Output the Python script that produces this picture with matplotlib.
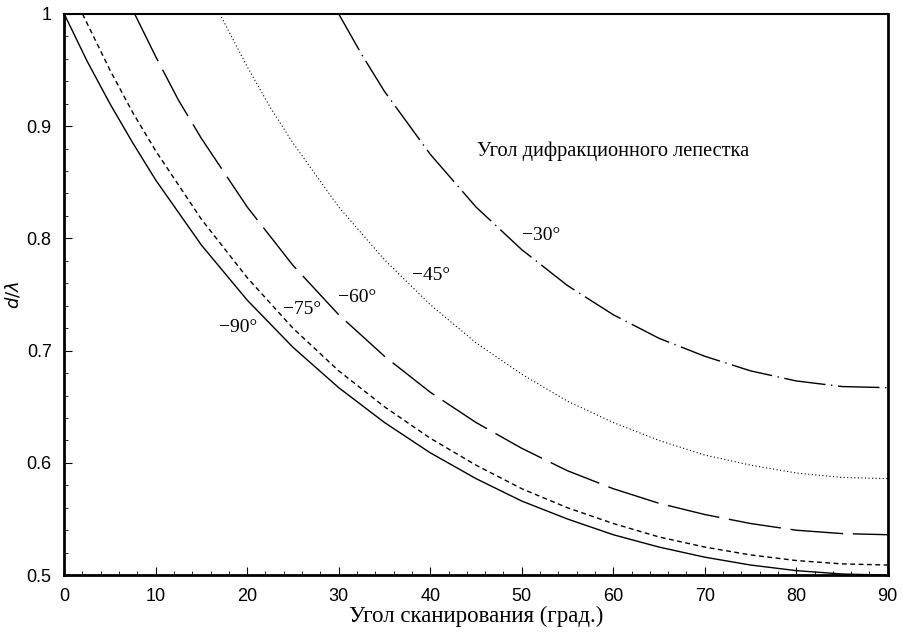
import numpy as np
import matplotlib.pyplot as plt
from matplotlib.ticker import MultipleLocator

# scan angle (deg) and element spacing d/lambda at which each grating lobe appears
scan_90 = [0, 2.5, 5, 7.5, 10, 15, 20, 25, 30, 35, 40, 45, 50, 55, 60, 65, 70, 75, 80, 85, 90]
dl_90 = [1.000, 0.958, 0.920, 0.885, 0.852, 0.794, 0.745, 0.703, 0.667, 0.636, 0.609,
         0.586, 0.566, 0.550, 0.536, 0.525, 0.516, 0.509, 0.504, 0.501, 0.500]

scan_75 = [2, 5, 7.5, 10, 15, 20, 25, 30, 35, 40, 45, 50, 55, 60, 65, 70, 75, 80, 85, 90]
dl_75 = [1.000, 0.950, 0.912, 0.878, 0.817, 0.765, 0.720, 0.682, 0.650, 0.622,
         0.598, 0.577, 0.560, 0.546, 0.534, 0.525, 0.518, 0.513, 0.510, 0.509]

scan_60 = [7.7, 10, 12.5, 15, 20, 25, 30, 35, 40, 45, 50, 55, 60, 65, 70, 75, 80, 85, 90]
dl_60 = [1.000, 0.962, 0.923, 0.889, 0.828, 0.776, 0.732, 0.695, 0.663, 0.636,
         0.613, 0.593, 0.577, 0.564, 0.554, 0.546, 0.540, 0.537, 0.536]

scan_45 = [17, 20, 22.5, 25, 30, 35, 40, 45, 50, 55, 60, 65, 70, 75, 80, 85, 90]
dl_45 = [1.000, 0.953, 0.917, 0.885, 0.828, 0.781, 0.741, 0.707, 0.679, 0.655,
         0.636, 0.620, 0.607, 0.598, 0.591, 0.587, 0.586]

scan_30 = [30, 32.5, 35, 40, 45, 50, 55, 60, 65, 70, 75, 80, 85, 90]
dl_30 = [1.000, 0.964, 0.931, 0.875, 0.828, 0.790, 0.758, 0.732, 0.711, 0.695,
         0.682, 0.673, 0.668, 0.667]

curve_labels = ['\u221290\u00b0', '\u221275\u00b0', '\u221260\u00b0', '\u221245\u00b0', '\u221230\u00b0']
label_x = [19.0, 26.0, 32.0, 40.1, 52.1]
label_y = [0.721, 0.737, 0.747, 0.767, 0.803]

serif = 'Liberation Serif'
sans = 'Liberation Sans'

fig = plt.figure(figsize=(9.04, 6.32), dpi=100)
ax = fig.add_axes([0.071, 0.090, 0.911, 0.888])

ax.plot(scan_90, dl_90, color='black', lw=1.0, linestyle='-')
ax.plot(scan_75, dl_75, color='black', lw=1.0, linestyle=(0, (3.5, 2.5)))
ax.plot(scan_60, dl_60, color='black', lw=1.0, linestyle=(0, (38, 7)))
ax.plot(scan_45, dl_45, color='black', lw=0.8, linestyle=(0, (1, 2.2)))
ax.plot(scan_30, dl_30, color='black', lw=1.0, linestyle=(0, (30, 4, 1, 4)))

for txt, x, y in zip(curve_labels, label_x, label_y):
    ax.text(x, y, txt, fontsize=14, family=serif, ha='center', va='center')

ax.text(60.0, 0.878, 'Угол дифракционного лепестка', fontsize=14.7, family=serif,
        ha='center', va='center')

ax.set_xlim(0, 90)
ax.set_ylim(0.5, 1.0)
ax.xaxis.set_major_locator(MultipleLocator(10))
ax.xaxis.set_minor_locator(MultipleLocator(2))
ax.yaxis.set_major_locator(MultipleLocator(0.1))
ax.yaxis.set_minor_locator(MultipleLocator(0.02))
ax.set_yticks([0.5, 0.6, 0.7, 0.8, 0.9, 1.0])
ax.set_yticklabels(['0.5', '0.6', '0.7', '0.8', '0.9', '1'])
ax.tick_params(which='both', direction='in', top=False, right=False)
ax.tick_params(which='major', length=6, width=0.8, labelsize=13)
ax.tick_params(which='minor', length=3, width=0.6)
ax.tick_params(axis='x', which='major', pad=9)
ax.tick_params(axis='y', which='major', pad=9)
for lab in ax.get_xticklabels() + ax.get_yticklabels():
    lab.set_family(sans)
for side in ['left', 'bottom', 'right']:
    ax.spines[side].set_linewidth(2.0)
ax.spines['top'].set_linewidth(1.5)

ax.set_xlabel('Угол сканирования (град.)', fontsize=16.5, family=serif, labelpad=1)
ax.set_ylabel('$d/\\lambda$', fontsize=13)
ax.yaxis.set_label_coords(-0.051, 0.5)

fig.savefig('out.png', dpi=100)
